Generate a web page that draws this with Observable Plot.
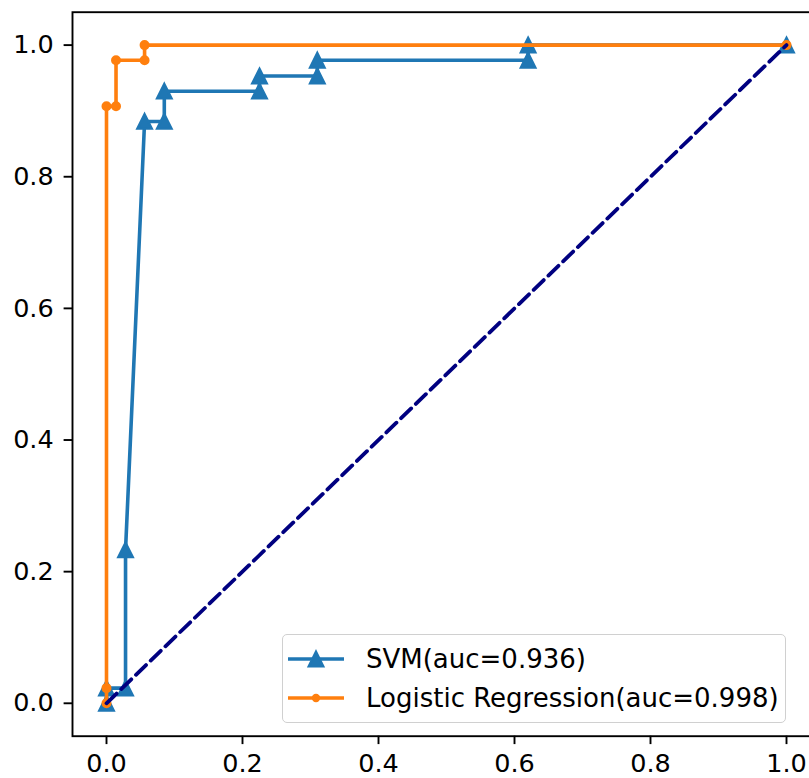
<!DOCTYPE html>
<html>
<head>
<meta charset="utf-8">
<script src="https://cdn.jsdelivr.net/npm/d3@7"></script>
<script src="https://cdn.jsdelivr.net/npm/@observablehq/plot@0.6"></script>
<style>
  html, body { margin: 0; padding: 0; background: #fff; }
  #wrap { position: relative; width: 809px; height: 778px; overflow: hidden; font-family: "DejaVu Sans", sans-serif; }
  #legend { position: absolute; left: 282px; top: 634px; width: 504px; height: 89px;
    border: 1px solid #d0d0d0; border-radius: 5px; background: rgba(255,255,255,0.8); box-sizing: border-box; }
  .row { position: absolute; left: 0; height: 40px; }
  .row svg { position: absolute; left: 5px; top: 0; }
  .row span { position: absolute; left: 83px; top: 0; font-size: 26px; color: #000; white-space: nowrap; line-height: 40px; }
</style>
</head>
<body>
<div id="wrap"></div>
<script>
// SVM ROC curve
const svmFpr = [0, 0, 0.028, 0.028, 0.056, 0.085, 0.085, 0.225, 0.225, 0.310, 0.310, 0.620, 0.620, 1.0];
const svmTpr = [0, 0.023, 0.023, 0.233, 0.884, 0.884, 0.930, 0.930, 0.953, 0.953, 0.977, 0.977, 1.0, 1.0];
// Logistic Regression ROC curve
const lrFpr = [0, 0, 0, 0.014, 0.014, 0.056, 0.056, 1.0];
const lrTpr = [0, 0.023, 0.907, 0.907, 0.977, 0.977, 1.0, 1.0];
// chance diagonal
const diagX = [0, 1];
const diagY = [0, 1];
// ticks
const xTicks = [0, 0.2, 0.4, 0.6, 0.8, 1.0];
const yTicks = [0, 0.2, 0.4, 0.6, 0.8, 1.0];
const seriesNames = ["SVM(auc=0.936)", "Logistic Regression(auc=0.998)"];
const seriesColors = ["#1f77b4", "#ff7f0e"];

const svm = svmFpr.map((x, i) => ({x, y: svmTpr[i]}));
const lr = lrFpr.map((x, i) => ({x, y: lrTpr[i]}));
const diag = diagX.map((x, i) => ({x, y: diagY[i]}));

const tri = {
  draw(ctx, size) {
    const h = Math.sqrt(size / Math.PI);
    ctx.moveTo(0, -h);
    ctx.lineTo(h, h);
    ctx.lineTo(-h, h);
    ctx.closePath();
  }
};

const chart = Plot.plot({
  width: 809,
  height: 778,
  marginLeft: 72,
  marginRight: -11,
  marginTop: 11.7,
  marginBottom: 42.3,
  style: { fontFamily: "DejaVu Sans", fontSize: "25.5px", color: "#000", background: "#fff" },
  x: { domain: [-0.05, 1.05] },
  y: { domain: [-0.05, 1.05] },
  marks: [
    Plot.line(svm, { x: "x", y: "y", stroke: seriesColors[0], strokeWidth: 3.6 }),
    Plot.dot(svm, { x: "x", y: "y", symbol: tri, r: 7.2, fill: seriesColors[0], stroke: seriesColors[0], strokeWidth: 2.4 }),
    Plot.line(lr, { x: "x", y: "y", stroke: seriesColors[1], strokeWidth: 3.6 }),
    Plot.dot(lr, { x: "x", y: "y", r: 3.8, fill: seriesColors[1], stroke: seriesColors[1], strokeWidth: 2.4 }),
    Plot.line(diag, { x: "x", y: "y", stroke: "navy", strokeWidth: 3.8, strokeDasharray: "14,6.5" }),
    Plot.axisX({ ticks: xTicks, tickFormat: d3.format(".1f"), tickSize: 8.4, tickPadding: 9, label: null, strokeWidth: 1.9 }),
    Plot.axisY({ ticks: yTicks, tickFormat: d3.format(".1f"), tickSize: 8.4, tickPadding: 10.4, label: null, strokeWidth: 1.9 }),
    Plot.frame({ stroke: "#000", strokeWidth: 1.9 })
  ]
});

const wrap = document.getElementById("wrap");
wrap.appendChild(chart);

// legend
const legend = document.createElement("div");
legend.id = "legend";
seriesNames.forEach((name, i) => {
  const row = document.createElement("div");
  row.className = "row";
  row.style.top = (i === 0 ? 4 : 43) + "px";
  const marker = i === 0
    ? `<path d="M28,12.8 L35.2,27.2 L20.8,27.2 Z" fill="${seriesColors[i]}" stroke="${seriesColors[i]}" stroke-width="2.4"/>`
    : `<circle cx="28" cy="20" r="4.2" fill="${seriesColors[i]}"/>`;
  row.innerHTML = `<svg width="60" height="40"><line x1="0" x2="56" y1="20" y2="20" stroke="${seriesColors[i]}" stroke-width="3.6"/>${marker}</svg><span>${name}</span>`;
  legend.appendChild(row);
});
wrap.appendChild(legend);
</script>
</body>
</html>
